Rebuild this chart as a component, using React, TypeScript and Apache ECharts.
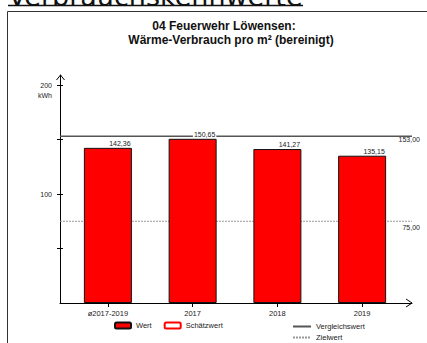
import React, { useEffect, useRef } from 'react';
import * as echarts from 'echarts';

const categories = ['ø2017-2019', '2017', '2018', '2019'];
const wertValues = [142.36, 150.65, 141.27, 135.15];
const schaetzValues: number[] = [];
const vergleichswert = 153.0;
const zielwert = 75.0;
const yTickValues = [50, 100, 150, 200];
const yLabelValues = [100, 200];
const yMax = 209.2;
const titleLines = ['04 Feuerwehr Löwensen:', 'Wärme-Verbrauch pro m² (bereinigt)'];
const headerText = 'Verbrauchskennwerte';
const unitText = 'kWh';

const FONT = '"Liberation Sans", Arial, sans-serif';
const fmt = (v: number) => v.toFixed(2).replace('.', ',');

export default function App() {
  const ref = useRef<HTMLDivElement>(null);
  useEffect(() => {
    document.body.style.margin = '0';
    const chart = echarts.init(ref.current!, null, { renderer: 'svg' });
    const refLine = (name: string, value: number, color: string, type: any, width: number, labelOffsetY: number, z: number) => ({
      name,
      type: 'line',
      xAxisIndex: 0,
      yAxisIndex: 0,
      z,
      symbol: 'circle',
      symbolSize: 1,
      itemStyle: { color: 'rgba(0,0,0,0)' },
      lineStyle: { color, type, width },
      data: [
        [0, value],
        {
          value: [1, value],
          label: {
            show: true,
            position: 'bottom',
            align: 'right',
            distance: 2,
            offset: [8, labelOffsetY],
            formatter: (p: any) => fmt(p.value[1]),
            fontSize: 7,
            fontFamily: FONT,
            color: '#222',
          },
        },
      ],
    });

    const titleStyle = { fontSize: 12, fontWeight: 'bold', fontFamily: FONT, color: '#111' };
    const option: any = {
      animation: false,
      backgroundColor: '#fff',
      title: [
        { text: titleLines[0], left: 224, top: 20, textAlign: 'center', padding: 0, textStyle: titleStyle },
        { text: titleLines[1], left: 231, top: 33.5, textAlign: 'center', padding: 0, textStyle: titleStyle },
      ],
      legend: [
        {
          data: ['Wert', 'Schätzwert'],
          left: 114,
          top: 321.5,
          padding: 0,
          itemWidth: 16,
          itemHeight: 6,
          itemGap: 12,
          textStyle: { fontSize: 7.5, fontFamily: FONT, color: '#222' },
        },
        {
          data: ['Vergleichswert', 'Zielwert'],
          orient: 'vertical',
          left: 292,
          top: 322.5,
          padding: 0,
          itemWidth: 18,
          itemHeight: 6,
          itemGap: 3,
          textStyle: { fontSize: 7.5, fontFamily: FONT, color: '#222' },
        },
      ],
      grid: [
        { left: 60, top: 75, width: 352, height: 228 },
        { left: 65.5, top: 75, width: 339, height: 228 },
      ],
      xAxis: [
        {
          gridIndex: 0,
          type: 'value',
          min: 0,
          max: 1,
          axisLine: { show: true, onZero: false, lineStyle: { color: '#000', width: 1 } },
          axisTick: { show: false },
          axisLabel: { show: false },
          splitLine: { show: false },
        },
        {
          gridIndex: 1,
          type: 'category',
          data: categories,
          axisLine: { show: false },
          axisTick: { show: true, alignWithLabel: true, length: 4, lineStyle: { color: '#000' } },
          axisLabel: { fontSize: 7.5, fontFamily: FONT, color: '#222', margin: 6 },
          splitLine: { show: false },
        },
      ],
      yAxis: [
        {
          gridIndex: 0,
          type: 'value',
          position: 'left',
          min: 0,
          max: yMax,
          axisLine: { show: true, lineStyle: { color: '#000', width: 1 } },
          axisTick: { show: true, length: 3, customValues: yTickValues, lineStyle: { color: '#000' } },
          axisLabel: { show: true, customValues: yLabelValues, fontSize: 7, fontFamily: FONT, color: '#222', margin: 8 },
          splitLine: { show: false },
        },
        {
          gridIndex: 0,
          type: 'value',
          position: 'left',
          min: 0,
          max: yMax,
          axisLine: { show: false },
          axisTick: { show: true, inside: true, length: 3, customValues: yTickValues, lineStyle: { color: '#000' } },
          axisLabel: { show: false },
          splitLine: { show: false },
        },
        {
          gridIndex: 1,
          type: 'value',
          min: 0,
          max: yMax,
          show: false,
          splitLine: { show: false },
        },
      ],
      graphic: [
        {
          type: 'text',
          left: 8,
          top: -17,
          style: { text: headerText, font: 'normal 27px "DejaVu Sans", Verdana, sans-serif', fill: '#111' },
        },
        { type: 'line', shape: { x1: 8, y1: 5.5, x2: 303, y2: 5.5 }, style: { stroke: '#111', lineWidth: 1.5 } },
        { type: 'polyline', shape: { points: [[7.5, 343], [7.5, 11.5], [427, 11.5]] }, style: { stroke: '#333', lineWidth: 1, fill: null } },
        { type: 'polyline', shape: { points: [[56.5, 80], [60.5, 75], [64.5, 80]] }, style: { stroke: '#000', lineWidth: 1, fill: null } },
        { type: 'line', shape: { x1: 60.5, y1: 75, x2: 60.5, y2: 80 }, style: { stroke: '#000', lineWidth: 1 } },
        { type: 'polyline', shape: { points: [[406, 299], [412, 303], [406, 307]] }, style: { stroke: '#000', lineWidth: 1, fill: null } },
        {
          type: 'text',
          x: 52,
          y: 95,
          style: { text: unitText, fontSize: 7, fontFamily: FONT, fill: '#222', textAlign: 'right', textVerticalAlign: 'middle' },
        },
      ],
      series: [
        refLine('Vergleichswert', vergleichswert, '#555', 'solid', 1.5, -3, 1),
        refLine('Zielwert', zielwert, '#999', [2, 1], 1, 0, 1),
        {
          name: 'Wert',
          type: 'bar',
          xAxisIndex: 1,
          yAxisIndex: 2,
          z: 3,
          barWidth: 48,
          barGap: '-100%',
          itemStyle: { color: '#ff0000', borderColor: '#111', borderWidth: 1 },
          label: {
            show: true,
            position: 'top',
            distance: 1,
            offset: [12, 0],
            formatter: (p: any) => fmt(p.value),
            fontSize: 7,
            fontFamily: FONT,
            color: '#222',
            backgroundColor: '#fff',
            padding: [1, 1, 0, 1],
          },
          data: wertValues,
        },
        {
          name: 'Schätzwert',
          type: 'bar',
          xAxisIndex: 1,
          yAxisIndex: 2,
          z: 3,
          barWidth: 48,
          barGap: '-100%',
          itemStyle: { color: '#fff', borderColor: '#ff0000', borderWidth: 1.5 },
          data: schaetzValues,
        },
      ],
    };
    chart.setOption(option);
    return () => chart.dispose();
  }, []);
  return <div ref={ref} style={{ position: 'absolute', left: 0, top: 0, width: 427, height: 343 }} />;
}
